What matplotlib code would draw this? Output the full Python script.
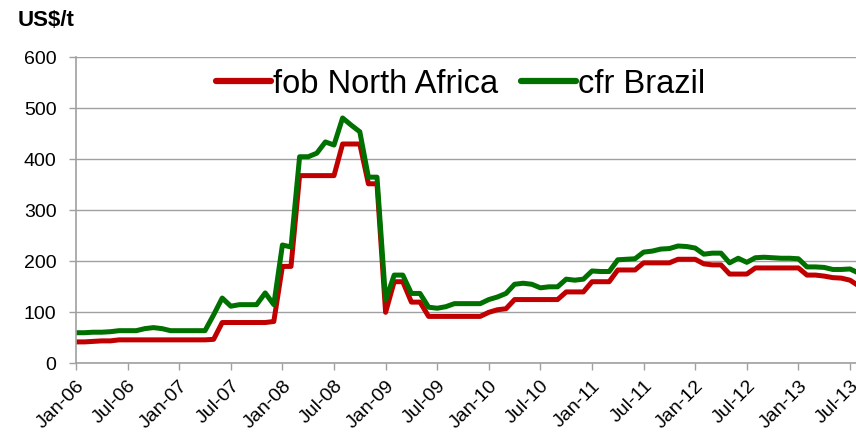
import matplotlib
matplotlib.use('Agg')
from matplotlib import pyplot as plt

plt.rcParams['font.family'] = ['Liberation Sans', 'DejaVu Sans']

# monthly prices, Jan-06 .. Aug-13
fob_north_africa = [
	42, 42, 43, 44, 44, 46, 46, 46, 46, 46, 46, 46,
	46, 46, 46, 46, 47, 80, 80, 80, 80, 80, 80, 82,
	190, 190, 368, 368, 368, 368, 368, 430, 430, 430, 352, 352,
	100, 160, 160, 120, 120, 92, 92, 92, 92, 92, 92, 92,
	100, 105, 107, 125, 125, 125, 125, 125, 125, 140, 140, 140,
	160, 160, 160, 183, 183, 183, 197, 197, 197, 197, 204, 204,
	204, 195, 193, 193, 175, 175, 175, 187, 187, 187, 187, 187,
	187, 173, 173, 171, 168, 167, 163, 152,
]
cfr_brazil = [
	60, 60, 61, 61, 62, 64, 64, 64, 68, 70, 68, 64,
	64, 64, 64, 64, 95, 128, 112, 115, 115, 115, 138, 115,
	232, 228, 405, 405, 412, 434, 428, 481, 467, 454, 365, 365,
	124, 173, 173, 137, 137, 110, 108, 111, 117, 117, 117, 117,
	125, 130, 137, 155, 157, 155, 148, 150, 150, 165, 163, 165,
	181, 180, 180, 203, 204, 205, 218, 220, 224, 225, 230, 229,
	226, 214, 216, 216, 197, 206, 198, 207, 208, 207, 206, 206,
	205, 189, 189, 188, 184, 184, 185, 177,
]
tick_labels = ['Jan-06', 'Jul-06', 'Jan-07', 'Jul-07', 'Jan-08', 'Jul-08',
	'Jan-09', 'Jul-09', 'Jan-10', 'Jul-10', 'Jan-11', 'Jul-11',
	'Jan-12', 'Jul-12', 'Jan-13', 'Jul-13']

months = list(range(len(fob_north_africa)))
grey = '#a0a0a0'

fig = plt.figure(dpi=100, figsize=(8.56, 4.36))
ax = fig.add_axes([0.0888, 0.1667, 0.9112, 0.7019])

ax.plot(months, fob_north_africa, c='#c00000', lw=3.6, label='fob North Africa',
	solid_joinstyle='round', solid_capstyle='round')
ax.plot(months, cfr_brazil, c='#007000', lw=3.6, label='cfr Brazil',
	solid_joinstyle='round', solid_capstyle='round')

ax.set_xlim(0, 90.7)
ax.set_ylim(0, 600)
ax.set_yticks(range(0, 601, 100))
ax.set_xticks(range(0, 6 * len(tick_labels), 6))
ax.set_xticklabels(tick_labels, rotation=45, ha='right', rotation_mode='anchor')
ax.tick_params(axis='both', labelsize=14, color=grey, length=5, width=1)
ax.tick_params(axis='y', pad=9)
ax.tick_params(axis='x', pad=5)

ax.grid(axis='y', color=grey, lw=1)
ax.set_axisbelow(True)
for s in ['top', 'right']:
	ax.spines[s].set_visible(False)
for s in ['left', 'bottom']:
	ax.spines[s].set_color(grey)
	ax.spines[s].set_linewidth(1.2)

leg = ax.legend(loc='upper center', bbox_to_anchor=(0.493, 1.058), ncol=2, frameon=False,
	fontsize=23.5, handlelength=1.7, handletextpad=0.05, columnspacing=0.7)
for h in leg.get_lines():
	h.set_linewidth(4.5)

fig.text(0.021, 0.953, 'US$/t', fontsize=16, fontweight='bold', va='center')

plt.savefig('out.png', dpi=100)
